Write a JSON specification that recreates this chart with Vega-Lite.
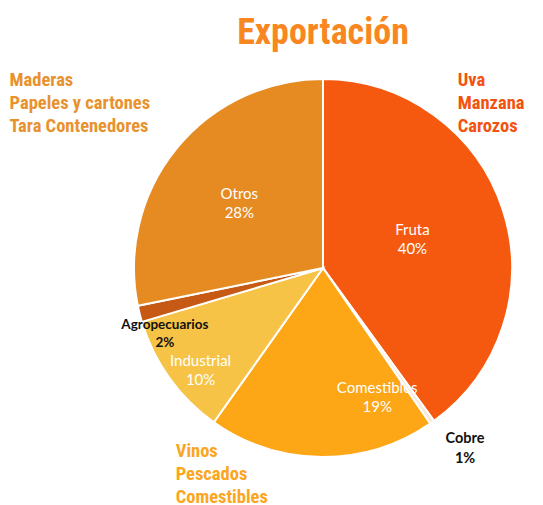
{
  "$schema": "https://vega.github.io/schema/vega-lite/v6.json",
  "width": 440,
  "height": 470,
  "autosize": "none",
  "padding": {"left": 103, "top": 33, "right": 0, "bottom": 2},
  "background": "white",
  "title": {
    "text": "Exportación",
    "font": "Roboto Condensed, Roboto, sans-serif",
    "fontSize": 36,
    "fontWeight": "bold",
    "color": "#F7871E",
    "anchor": "middle",
    "frame": "group",
    "offset": -40,
    "baseline": "alphabetic",
    "dy": 43
  },
  "config": {"view": {"stroke": null}},
  "data": {
    "values": [
      {"cat": "Fruta", "value": 40.0, "ord": 1, "label": "Fruta\n40%", "note": "Uva\nManzana\nCarozos"},
      {"cat": "Cobre", "value": 0.4, "ord": 2, "label": "Cobre\n1%", "note": ""},
      {"cat": "Comestibles", "value": 19.4, "ord": 3, "label": "Comestibles\n19%", "note": "Vinos\nPescados\nComestibles"},
      {"cat": "Industrial", "value": 10.6, "ord": 4, "label": "Industrial\n10%", "note": ""},
      {"cat": "Agropecuarios", "value": 1.4, "ord": 5, "label": "Agropecuarios\n2%", "note": ""},
      {"cat": "Otros", "value": 28.2, "ord": 6, "label": "Otros\n28%", "note": "Maderas\nPapeles y cartones\nTara Contenedores"}
    ]
  },
  "encoding": {
    "theta": {"field": "value", "type": "quantitative", "stack": true},
    "order": {"field": "ord", "type": "ordinal"}
  },
  "layer": [
    {
      "mark": {"type": "arc", "radius": 189, "stroke": "white", "strokeWidth": 2},
      "encoding": {
        "color": {
          "field": "cat",
          "type": "nominal",
          "legend": null,
          "scale": {
            "domain": ["Fruta", "Cobre", "Comestibles", "Industrial", "Agropecuarios", "Otros"],
            "range": ["#F5590F", "#FBE8D4", "#FDA616", "#F6C347", "#C65914", "#E68B22"]
          }
        }
      }
    },
    {
      "mark": {"type": "text", "radius": 94, "dy": -9, "font": "Lato", "fontSize": 15, "color": "white", "lineBreak": "\n", "lineHeight": 19, "align": "center", "baseline": "middle"},
      "encoding": {"text": {"condition": {"test": "datum.cat === 'Fruta'", "field": "label"}, "value": ""}}
    },
    {
      "mark": {"type": "text", "radius": 108, "dy": -6, "font": "Lato", "fontSize": 15, "color": "white", "lineBreak": "\n", "lineHeight": 19, "align": "center", "baseline": "middle"},
      "encoding": {"text": {"condition": {"test": "datum.cat === 'Otros'", "field": "label"}, "value": ""}}
    },
    {
      "mark": {"type": "text", "radius": 127, "dx": 55, "dy": -7, "font": "Lato", "fontSize": 15, "color": "white", "lineBreak": "\n", "lineHeight": 19, "align": "center", "baseline": "middle"},
      "encoding": {"text": {"condition": {"test": "datum.cat === 'Comestibles'", "field": "label"}, "value": ""}}
    },
    {
      "mark": {"type": "text", "radius": 158, "dx": 6, "dy": 1, "font": "Lato", "fontSize": 15, "color": "white", "lineBreak": "\n", "lineHeight": 19, "align": "center", "baseline": "middle"},
      "encoding": {"text": {"condition": {"test": "datum.cat === 'Industrial'", "field": "label"}, "value": ""}}
    },
    {
      "mark": {"type": "text", "radius": 163, "dy": 17, "font": "Lato", "fontSize": 13.5, "fontWeight": "bold", "color": "#111111", "lineBreak": "\n", "lineHeight": 18, "align": "center", "baseline": "middle"},
      "encoding": {"text": {"condition": {"test": "datum.cat === 'Agropecuarios'", "field": "label"}, "value": ""}}
    },
    {
      "mark": {"type": "text", "radius": 220, "dx": 15, "dy": -9, "font": "Lato", "fontSize": 14.5, "fontWeight": "bold", "color": "#111111", "lineBreak": "\n", "lineHeight": 20, "align": "center", "baseline": "middle"},
      "encoding": {"text": {"condition": {"test": "datum.cat === 'Cobre'", "field": "label"}, "value": ""}}
    },
    {
      "mark": {"type": "text", "radius": 264, "dx": -109, "dy": -21, "font": "Roboto Condensed, Roboto, sans-serif", "fontSize": 18.5, "fontWeight": "bold", "color": "#E8922E", "lineBreak": "\n", "lineHeight": 23, "align": "left", "baseline": "middle"},
      "encoding": {"text": {"condition": {"test": "datum.cat === 'Otros'", "field": "note"}, "value": ""}}
    },
    {
      "mark": {"type": "text", "radius": 230, "dx": -84, "dy": -117, "font": "Roboto Condensed, Roboto, sans-serif", "fontSize": 18.5, "fontWeight": "bold", "color": "#F4520F", "lineBreak": "\n", "lineHeight": 23, "align": "left", "baseline": "middle"},
      "encoding": {"text": {"condition": {"test": "datum.cat === 'Fruta'", "field": "note"}, "value": ""}}
    },
    {
      "mark": {"type": "text", "radius": 208, "dx": -146, "dy": -25, "font": "Roboto Condensed, Roboto, sans-serif", "fontSize": 18.5, "fontWeight": "bold", "color": "#FBA520", "lineBreak": "\n", "lineHeight": 23, "align": "left", "baseline": "middle"},
      "encoding": {"text": {"condition": {"test": "datum.cat === 'Comestibles'", "field": "note"}, "value": ""}}
    }
  ]
}
